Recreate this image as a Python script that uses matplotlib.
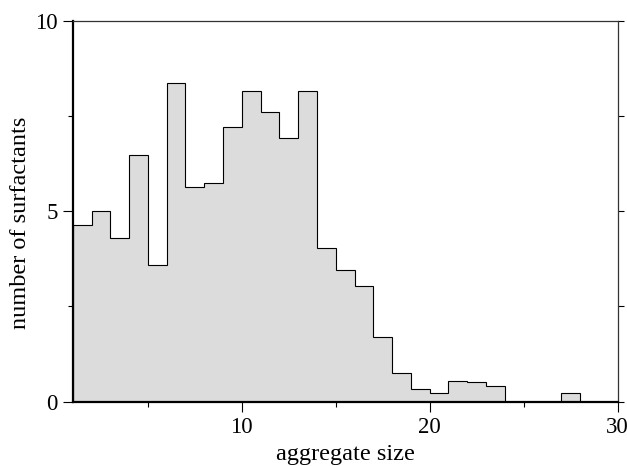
import numpy as np
import matplotlib.pyplot as plt
from matplotlib.ticker import MultipleLocator

plt.rcParams['font.family'] = ['Liberation Serif', 'DejaVu Serif']

# bin edges 1..30, one count per unit-wide bin
edges = np.arange(1, 31)
counts = [4.64, 5.01, 4.29, 6.47, 3.58, 8.36, 5.63, 5.74, 7.20, 8.16,
          7.61, 6.91, 8.16, 4.03, 3.45, 3.04, 1.70, 0.745, 0.34, 0.22,
          0.535, 0.52, 0.41, 0, 0, 0, 0.23, 0, 0]

fig = plt.figure(figsize=(6.27, 4.66), dpi=100)
ax = fig.add_axes([0.116, 0.138, 0.869, 0.818])

ax.bar(edges[:-1], counts, width=1, align='edge', color='#dcdcdc', linewidth=0)
ax.stairs(counts, edges, color='black', lw=0.8)

ax.set_xlim(1, 30)
ax.set_ylim(0, 10)

ax.xaxis.set_major_locator(MultipleLocator(10))
ax.xaxis.set_minor_locator(MultipleLocator(5))
ax.yaxis.set_major_locator(MultipleLocator(5))
ax.yaxis.set_minor_locator(MultipleLocator(2.5))

ax.tick_params(which='both', direction='out', labelsize=16.5, width=0.8)
ax.tick_params(which='major', length=7.5)
ax.tick_params(which='minor', length=3.8)
ax.tick_params(axis='y', which='both', right=True)
for t in ax.yaxis.get_major_ticks() + ax.yaxis.get_minor_ticks():
    t.tick2line.set_markersize(4.5)

for s in ['left', 'bottom']:
    ax.spines[s].set_linewidth(1.6)
for s in ['top', 'right']:
    ax.spines[s].set_linewidth(0.9)
    ax.spines[s].set_color('#333333')

ax.set_xlabel('aggregate size', fontsize=17.5, labelpad=4)
ax.set_ylabel('number of surfactants', fontsize=17.5)
ax.yaxis.set_label_coords(-0.077, 0.47)

fig.savefig('out.png', dpi=100)
